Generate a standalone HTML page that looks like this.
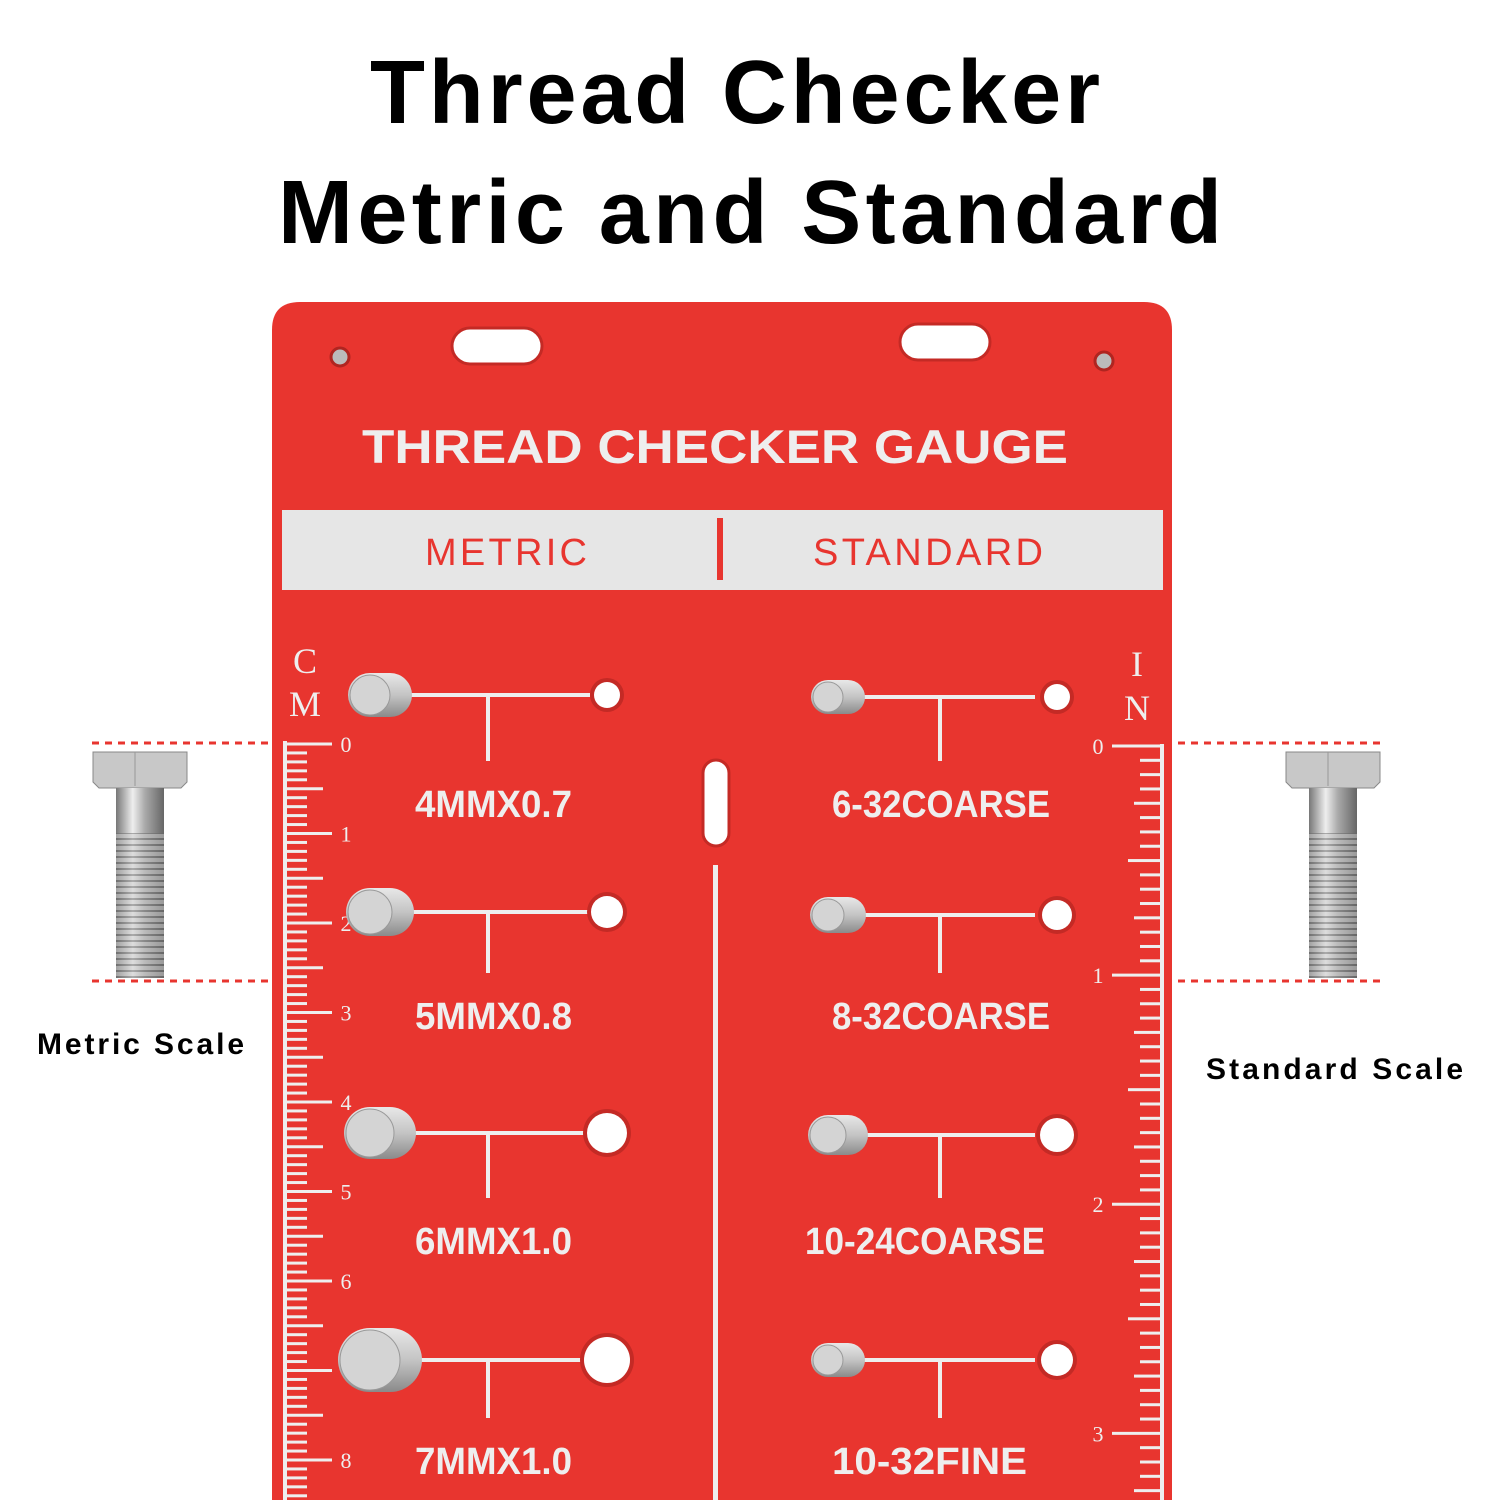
<!DOCTYPE html>
<html><head><meta charset="utf-8"><style>
html,body{margin:0;padding:0;background:#fff;}
svg{display:block}
</style></head><body>
<svg id="s" width="1500" height="1500" viewBox="0 0 1500 1500" xmlns="http://www.w3.org/2000/svg" font-family="Liberation Sans, sans-serif">
<defs>
<linearGradient id="pin" x1="0" y1="0" x2="0" y2="1"><stop offset="0" stop-color="#e8e8e8"/><stop offset="0.5" stop-color="#c4c4c4"/><stop offset="1" stop-color="#8a8a8a"/></linearGradient>
<linearGradient id="bolt" x1="0" y1="0" x2="1" y2="0"><stop offset="0" stop-color="#777"/><stop offset="0.35" stop-color="#eee"/><stop offset="0.6" stop-color="#aaa"/><stop offset="1" stop-color="#666"/></linearGradient>
<pattern id="thr" width="10" height="6" patternUnits="userSpaceOnUse"><rect width="10" height="6" fill="#ccc"/><rect y="4" width="10" height="2" fill="#666"/></pattern>
</defs>
<text x="370" y="123" font-size="90" font-weight="bold" fill="#000" textLength="730" lengthAdjust="spacing">Thread Checker</text>
<text x="278" y="243" font-size="90" font-weight="bold" fill="#000" textLength="944" lengthAdjust="spacing">Metric and Standard</text>
<path d="M272 1500 V330 Q272 302 300 302 H1144 Q1172 302 1172 330 V1500 Z" fill="#e8352f"/>
<rect x="452" y="328" width="90" height="36" rx="18" fill="#fff" stroke="#c42a25" stroke-width="3"/>
<rect x="900" y="324" width="90" height="36" rx="18" fill="#fff" stroke="#c42a25" stroke-width="3"/>
<circle cx="340" cy="357" r="9" fill="#bbb" stroke="#b02520" stroke-width="3"/>
<circle cx="1104" cy="361" r="9" fill="#bbb" stroke="#b02520" stroke-width="3"/>
<text x="362" y="463" font-size="47" font-weight="bold" fill="#eee" textLength="706" lengthAdjust="spacingAndGlyphs">THREAD CHECKER GAUGE</text>
<rect x="282" y="510" width="881" height="80" fill="#e6e6e6"/>
<rect x="717" y="518" width="6" height="62" fill="#e8352f"/>
<text x="425" y="565" font-size="38" fill="#e8352f" textLength="162" lengthAdjust="spacing">METRIC</text>
<text x="813" y="565" font-size="38" fill="#e8352f" textLength="230" lengthAdjust="spacing">STANDARD</text>
<text x="305" y="673" font-size="36" font-family="Liberation Serif, serif" text-anchor="middle" fill="#eee">C</text>
<text x="305" y="716" font-size="36" font-family="Liberation Serif, serif" text-anchor="middle" fill="#eee">M</text>
<text x="1137" y="676" font-size="36" font-family="Liberation Serif, serif" text-anchor="middle" fill="#eee">I</text>
<text x="1137" y="720" font-size="36" font-family="Liberation Serif, serif" text-anchor="middle" fill="#eee">N</text>
<rect x="703" y="760" width="26" height="86" rx="13" fill="#fff" stroke="#c42a25" stroke-width="3"/>
<rect x="713" y="865" width="5" height="640" fill="#eee"/>
<g id="ticks" fill="#eee"></g>
<g id="rows"></g>
<g stroke="#e8352f" stroke-width="3" stroke-dasharray="7,6">
<line x1="92" y1="743" x2="268" y2="743"/><line x1="92" y1="981" x2="268" y2="981"/>
<line x1="1178" y1="743" x2="1383" y2="743"/><line x1="1178" y1="981" x2="1383" y2="981"/>
</g>
<g id="bolts"></g>
<text x="37" y="1054" font-size="30" font-weight="bold" fill="#000" textLength="207" lengthAdjust="spacing">Metric Scale</text>
<text x="1206" y="1079" font-size="30" font-weight="bold" fill="#000" textLength="257" lengthAdjust="spacing">Standard Scale</text>
</svg>
<script>
var NS="http://www.w3.org/2000/svg";
function el(p,t,a,txt){var e=document.createElementNS(NS,t);for(var k in a)e.setAttribute(k,a[k]);if(txt)e.textContent=txt;p.appendChild(e);return e;}
var T=document.getElementById('ticks');
el(T,'rect',{x:283,y:741,width:4,height:760});
for(var i=0;i<=84;i++){var y=744+i*8.95;var L=(i%10==0)?47:(i%5==0)?38:22;el(T,'rect',{x:285,y:y-1.5,width:L,height:3});
if(i%10==0&&i/10!=7)el(T,'text',{x:346,y:y+8,'font-size':22,'font-family':'Liberation Serif, serif','text-anchor':'middle'},String(i/10));}
el(T,'rect',{x:1160,y:744,width:4,height:760});
for(var i=0;i<=52;i++){var y=746+i*14.32;var L=(i%16==0)?50:(i%8==0)?34:(i%4==0)?28:22;el(T,'rect',{x:1162-L,y:y-1.5,width:L,height:3});
if(i%16==0)el(T,'text',{x:1098,y:y+8,'font-size':22,'font-family':'Liberation Serif, serif','text-anchor':'middle'},String(i/16));}
var R=document.getElementById('rows');
var M=[[695,803,'4MMX0.7',13,22,415,157],[912,1015,'5MMX0.8',16,24,415,157],[1133,1240,'6MMX1.0',20,26,415,157],[1360,1460,'7MMX1.0',23,32,415,157]];
var S=[[697,803,'6-32COARSE',13,17,832,218],[915,1015,'8-32COARSE',15,18,832,218],[1135,1240,'10-24COARSE',17,20,805,240],[1360,1460,'10-32FINE',16,17,832,195]];
function row(r,lx1,lx2,vx,hx,px){var y=r[0];
el(R,'rect',{x:lx1,y:y-2,width:lx2-lx1,height:4,fill:'#eee'});
el(R,'rect',{x:vx-2,y:y,width:4,height:r[1]-y-42,fill:'#eee'});
el(R,'circle',{cx:hx,cy:y,r:r[3]+4,fill:'#c42a25'});
el(R,'circle',{cx:hx,cy:y,r:r[3],fill:'#fff'});
el(R,'text',{x:r[5],y:r[1]+14,'font-size':38,'font-weight':'bold',fill:'#eee','textLength':r[6],'lengthAdjust':'spacingAndGlyphs'},r[2]);
var w=r[4]*2;el(R,'rect',{x:px-r[4],y:y-r[4],width:w+20,height:w,rx:r[4],fill:'url(#pin)'});
el(R,'circle',{cx:px,cy:y,r:r[4]-2,fill:'#d4d4d4',stroke:'#999','stroke-width':1});}
M.forEach(function(r){row(r,395,590,488,607,370);});
S.forEach(function(r){row(r,845,1035,940,1057,828);});
var B=document.getElementById('bolts');
[140,1333].forEach(function(cx){
el(B,'path',{d:'M'+(cx-47)+' 752 h94 v30 l-6 6 h-82 l-6 -6 z',fill:'#c8c8c8',stroke:'#888'});
el(B,'line',{x1:cx-5,y1:752,x2:cx-5,y2:786,stroke:'#999'});
el(B,'rect',{x:cx-24,y:788,width:48,height:45,fill:'url(#bolt)'});
el(B,'rect',{x:cx-24,y:833,width:48,height:145,fill:'url(#thr)'});
el(B,'rect',{x:cx-24,y:833,width:48,height:145,fill:'url(#bolt)',opacity:0.5});});
</script>
</body></html>
